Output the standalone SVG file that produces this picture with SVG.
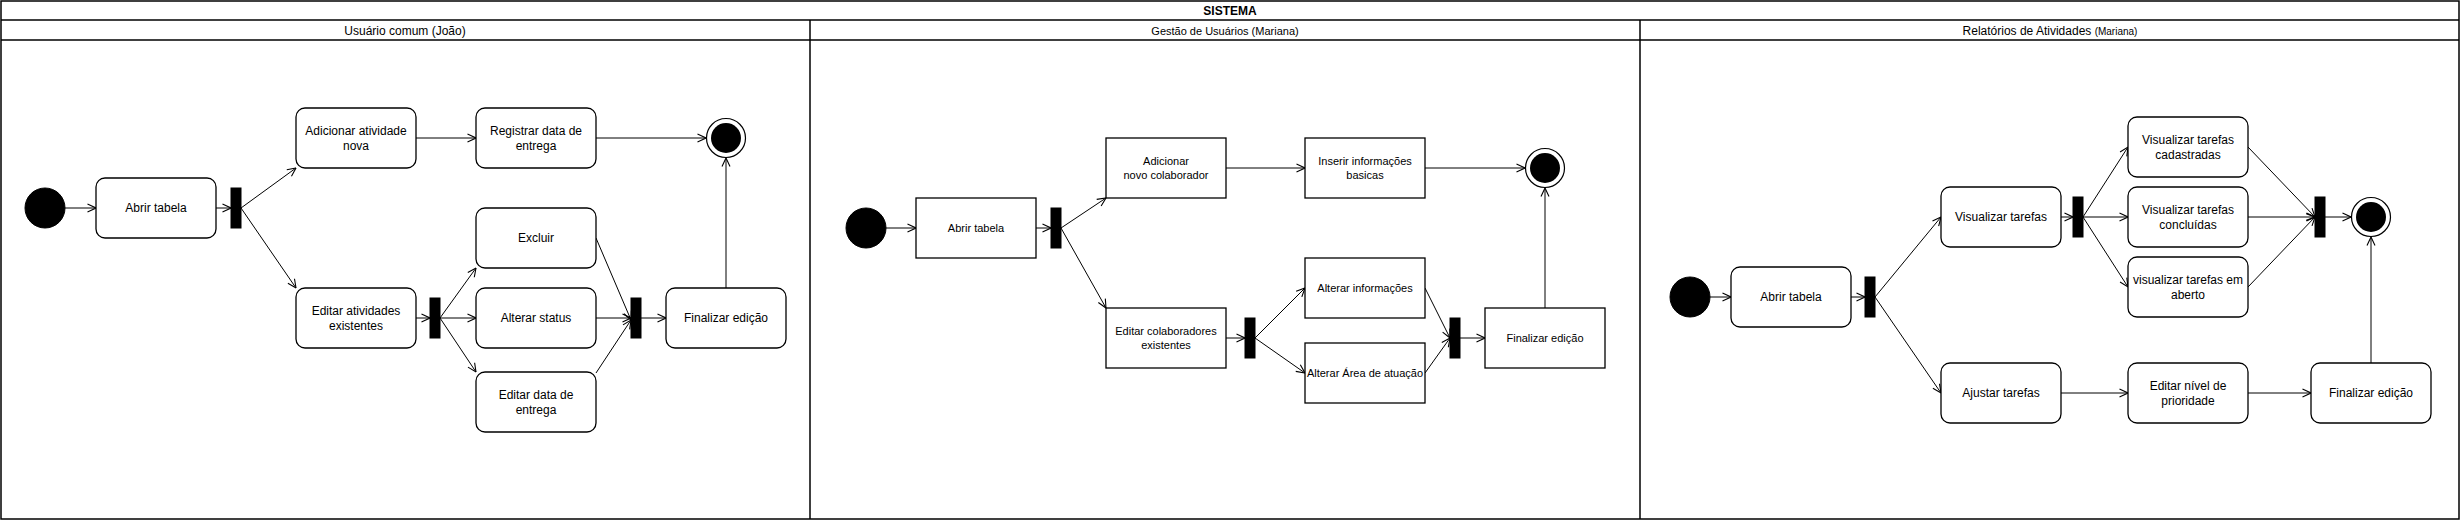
<svg xmlns="http://www.w3.org/2000/svg" width="2461" height="521" viewBox="0 0 2461 521">
<style>
text{font-family:"Liberation Sans",Arial,sans-serif;fill:#000;text-anchor:middle;dominant-baseline:central}
.t12{font-size:12px}.t11{font-size:11px}.t10{font-size:10px}
.box{fill:#fff;stroke:#000;stroke-width:1.3}
.bar{fill:#000;stroke:#000}
.start{fill:#000;stroke:#000}
.lane{fill:none;stroke:#000;stroke-width:1.5}
.c{fill:none;stroke:#000;stroke-width:1;marker-end:url(#a)}
</style>
<defs>
<marker id="a" viewBox="0 0 10 10" refX="9.5" refY="5" markerWidth="10" markerHeight="10" markerUnits="userSpaceOnUse" orient="auto">
<path d="M1 1 L9.5 5 L1 9" fill="none" stroke="#000" stroke-width="1.1"/>
</marker>
</defs>
<rect x="0" y="0" width="2461" height="521" fill="#fff"/>
<g id="pool">
<rect class="lane" x="1" y="1" width="2458" height="518"/>
<line class="lane" x1="1" y1="20" x2="2459" y2="20"/>
<line class="lane" x1="1" y1="40" x2="2459" y2="40"/>
<line class="lane" x1="810" y1="20" x2="810" y2="519"/>
<line class="lane" x1="1640" y1="20" x2="1640" y2="519"/>
<text x="1230" y="10.5" class="t12" font-weight="bold">SISTEMA</text>
<text x="405" y="30.5" class="t12">Usuário comum (João)</text>
<text x="1225" y="30.5" class="t11">Gestão de Usuários (Mariana)</text>
<text x="2050" y="30.5" class="t12">Relatórios de Atividades <tspan class="t10">(Mariana)</tspan></text>
</g>

<g id="connectors">
<!-- lane 1 -->
<path class="c" d="M65 208 L96 208"/>
<path class="c" d="M216 208 L231 208"/>
<path class="c" d="M241 208 L296 168"/>
<path class="c" d="M241 208 L296 288"/>
<path class="c" d="M416 138 L476 138"/>
<path class="c" d="M596 138 L706 138"/>
<path class="c" d="M416 318 L430 318"/>
<path class="c" d="M440 318 L476 268"/>
<path class="c" d="M440 318 L476 318"/>
<path class="c" d="M440 318 L476 372"/>
<path class="c" d="M596 238 L631 320"/>
<path class="c" d="M596 318 L631 318"/>
<path class="c" d="M596 373 L631 320"/>
<path class="c" d="M641 318 L666 318"/>
<path class="c" d="M726 288 L726 158"/>
<!-- lane 2 -->
<path class="c" d="M886 228 L916 228"/>
<path class="c" d="M1036 228 L1051 228"/>
<path class="c" d="M1061 228 L1106 198"/>
<path class="c" d="M1061 228 L1106 308"/>
<path class="c" d="M1226 168 L1305 168"/>
<path class="c" d="M1425 168 L1525 168"/>
<path class="c" d="M1226 338 L1245 338"/>
<path class="c" d="M1255 338 L1305 288"/>
<path class="c" d="M1255 338 L1305 373"/>
<path class="c" d="M1425 288 L1450 338"/>
<path class="c" d="M1425 373 L1450 338"/>
<path class="c" d="M1460 338 L1485 338"/>
<path class="c" d="M1545 308 L1545 188"/>
<!-- lane 3 -->
<path class="c" d="M1710 297 L1731 297"/>
<path class="c" d="M1851 297 L1865 297"/>
<path class="c" d="M1875 297 L1941 217"/>
<path class="c" d="M1875 297 L1941 393"/>
<path class="c" d="M2061 217 L2073 217"/>
<path class="c" d="M2083 217 L2128 147"/>
<path class="c" d="M2083 217 L2128 217"/>
<path class="c" d="M2083 217 L2128 287"/>
<path class="c" d="M2248 147 L2315 217"/>
<path class="c" d="M2248 217 L2315 217"/>
<path class="c" d="M2248 287 L2315 217"/>
<path class="c" d="M2325 217 L2351 217"/>
<path class="c" d="M2061 393 L2128 393"/>
<path class="c" d="M2248 393 L2311 393"/>
<path class="c" d="M2371 363 L2371 237"/>
</g>

<!-- lane 1 nodes -->
<g id="l1-start"><circle class="start" cx="45" cy="208" r="20"/></g>
<g id="l1-abrir"><rect class="box" x="96" y="178" width="120" height="60" rx="9"/><text x="156" y="208" class="t12">Abrir tabela</text></g>
<g id="l1-fork1"><rect class="bar" x="231" y="188" width="10" height="40"/></g>
<g id="l1-adicionar"><rect class="box" x="296" y="108" width="120" height="60" rx="9"/><text x="356" y="130.5" class="t12">Adicionar atividade</text><text x="356" y="145.5" class="t12">nova</text></g>
<g id="l1-registrar"><rect class="box" x="476" y="108" width="120" height="60" rx="9"/><text x="536" y="130.5" class="t12">Registrar data de</text><text x="536" y="145.5" class="t12">entrega</text></g>
<g id="l1-end"><circle cx="726" cy="138" r="19.5" fill="#fff" stroke="#000" stroke-width="1.2"/><circle cx="726" cy="138" r="15" fill="#000"/></g>
<g id="l1-excluir"><rect class="box" x="476" y="208" width="120" height="60" rx="9"/><text x="536" y="238" class="t12">Excluir</text></g>
<g id="l1-editar"><rect class="box" x="296" y="288" width="120" height="60" rx="9"/><text x="356" y="310.5" class="t12">Editar atividades</text><text x="356" y="325.5" class="t12">existentes</text></g>
<g id="l1-fork2"><rect class="bar" x="430" y="298" width="10" height="40"/></g>
<g id="l1-status"><rect class="box" x="476" y="288" width="120" height="60" rx="9"/><text x="536" y="318" class="t12">Alterar status</text></g>
<g id="l1-data"><rect class="box" x="476" y="372" width="120" height="60" rx="9"/><text x="536" y="394.5" class="t12">Editar data de</text><text x="536" y="409.5" class="t12">entrega</text></g>
<g id="l1-join"><rect class="bar" x="631" y="298" width="10" height="40"/></g>
<g id="l1-finalizar"><rect class="box" x="666" y="288" width="120" height="60" rx="9"/><text x="726" y="318" class="t12">Finalizar edição</text></g>

<!-- lane 2 nodes -->
<g id="l2-start"><circle class="start" cx="866" cy="228" r="20"/></g>
<g id="l2-abrir"><rect class="box" x="916" y="198" width="120" height="60"/><text x="976" y="228" class="t11">Abrir tabela</text></g>
<g id="l2-fork1"><rect class="bar" x="1051" y="208" width="10" height="40"/></g>
<g id="l2-adicionar"><rect class="box" x="1106" y="138" width="120" height="60"/><text x="1166" y="161" class="t11">Adicionar</text><text x="1166" y="175" class="t11">novo colaborador</text></g>
<g id="l2-inserir"><rect class="box" x="1305" y="138" width="120" height="60"/><text x="1365" y="161" class="t11">Inserir informações</text><text x="1365" y="175" class="t11">basicas</text></g>
<g id="l2-end"><circle cx="1545" cy="168" r="19.5" fill="#fff" stroke="#000" stroke-width="1.2"/><circle cx="1545" cy="168" r="15" fill="#000"/></g>
<g id="l2-alterarinfo"><rect class="box" x="1305" y="258" width="120" height="60"/><text x="1365" y="288" class="t11">Alterar informações</text></g>
<g id="l2-editar"><rect class="box" x="1106" y="308" width="120" height="60"/><text x="1166" y="331" class="t11">Editar colaboradores</text><text x="1166" y="345" class="t11">existentes</text></g>
<g id="l2-fork2"><rect class="bar" x="1245" y="318" width="10" height="40"/></g>
<g id="l2-area"><rect class="box" x="1305" y="343" width="120" height="60"/><text x="1365" y="373" class="t11">Alterar Área de atuação</text></g>
<g id="l2-join"><rect class="bar" x="1450" y="318" width="10" height="40"/></g>
<g id="l2-finalizar"><rect class="box" x="1485" y="308" width="120" height="60"/><text x="1545" y="338" class="t11">Finalizar edição</text></g>

<!-- lane 3 nodes -->
<g id="l3-start"><circle class="start" cx="1690" cy="297" r="20"/></g>
<g id="l3-abrir"><rect class="box" x="1731" y="267" width="120" height="60" rx="9"/><text x="1791" y="297" class="t12">Abrir tabela</text></g>
<g id="l3-fork1"><rect class="bar" x="1865" y="277" width="10" height="40"/></g>
<g id="l3-visualizar"><rect class="box" x="1941" y="187" width="120" height="60" rx="9"/><text x="2001" y="217" class="t12">Visualizar tarefas</text></g>
<g id="l3-fork2"><rect class="bar" x="2073" y="197" width="10" height="40"/></g>
<g id="l3-cadastradas"><rect class="box" x="2128" y="117" width="120" height="60" rx="9"/><text x="2188" y="139.5" class="t12">Visualizar tarefas</text><text x="2188" y="154.5" class="t12">cadastradas</text></g>
<g id="l3-concluidas"><rect class="box" x="2128" y="187" width="120" height="60" rx="9"/><text x="2188" y="209.5" class="t12">Visualizar tarefas</text><text x="2188" y="224.5" class="t12">concluídas</text></g>
<g id="l3-aberto"><rect class="box" x="2128" y="257" width="120" height="60" rx="9"/><text x="2188" y="279.5" class="t12">visualizar tarefas em</text><text x="2188" y="294.5" class="t12">aberto</text></g>
<g id="l3-join"><rect class="bar" x="2315" y="197" width="10" height="40"/></g>
<g id="l3-end"><circle cx="2371" cy="217" r="19.5" fill="#fff" stroke="#000" stroke-width="1.2"/><circle cx="2371" cy="217" r="15" fill="#000"/></g>
<g id="l3-ajustar"><rect class="box" x="1941" y="363" width="120" height="60" rx="9"/><text x="2001" y="393" class="t12">Ajustar tarefas</text></g>
<g id="l3-prioridade"><rect class="box" x="2128" y="363" width="120" height="60" rx="9"/><text x="2188" y="385.5" class="t12">Editar nível de</text><text x="2188" y="400.5" class="t12">prioridade</text></g>
<g id="l3-finalizar"><rect class="box" x="2311" y="363" width="120" height="60" rx="9"/><text x="2371" y="393" class="t12">Finalizar edição</text></g>
</svg>
